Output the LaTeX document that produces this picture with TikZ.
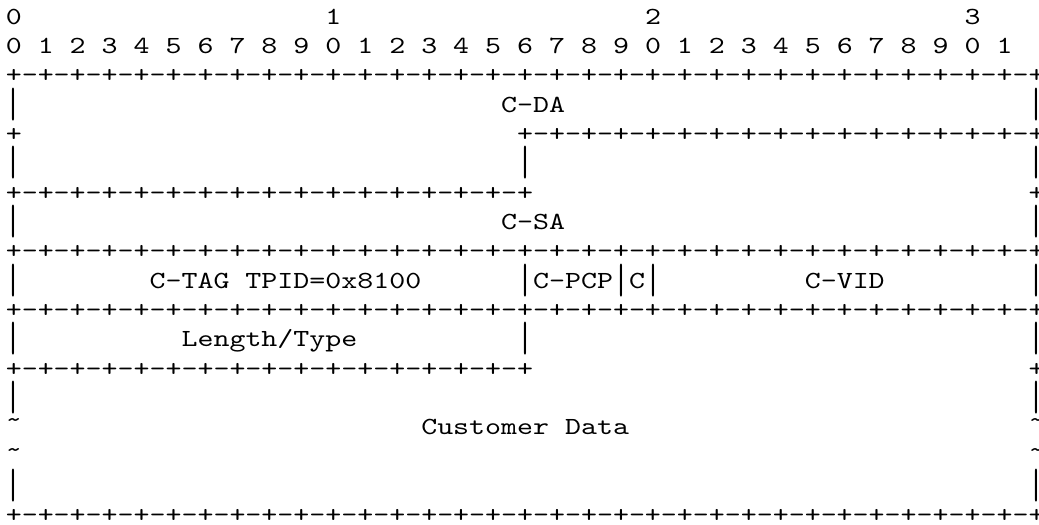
\documentclass[tikz,border=0pt]{standalone}
\usepackage{fontspec}
\usepackage{tikz}
\newfontfamily\asciifont[FakeStretch=1.2373]{lmmono10-regular.otf}
\newcommand\pluses{+-+-+-+-+-+-+-+-}
\newcommand\halfrule{\pluses\pluses+}
\newcommand\fullrule{\pluses\pluses\pluses\pluses+}
\newcommand\vbar{\smash{\raisebox{-2.5pt}{\scalebox{1}[1.72]{|}}}\vphantom{C}}
\newcommand\wave{\raisebox{3.5pt}{\textasciitilde}}

\begin{document}
\begin{tikzpicture}[
        x=7.99pt, y=-14.665pt,
        every node/.style={inner sep=0pt, outer sep=0pt, anchor=base west,
            font={\fontsize{12.3pt}{14pt}\asciifont}},
    ]
    \useasboundingbox (-0.363,0.173) rectangle (64.656,18.039);
    % bit numbers
    \foreach \t in {0,...,3}
        \node (tens\t) at (20*\t,1) {\t};
    \foreach \b [evaluate=\b as \d using {int(mod(\b,10))}] in {0,...,31}
        \node (bit\b) at (2*\b,2) {\d};
    % C-DA
    \node (ruleA) at (0,3) {\fullrule};
    \node (daL) at (0,4) {\vbar};
    \node (da) at (31,4) {C-DA};
    \node (daR) at (64,4) {\vbar};
    \node (daP) at (0,5) {+};
    \node (ruleB) at (32,5) {\halfrule};
    \node (saL) at (0,6) {\vbar};
    \node (daM) at (32,6) {\vbar};
    \node (saR) at (64,6) {\vbar};
    % C-SA
    \node (ruleC) at (0,7) {\halfrule};
    \node (saP) at (64,7) {+};
    \node (sa1) at (0,8) {\vbar};
    \node (sa) at (31,8) {C-SA};
    \node (sa2) at (64,8) {\vbar};
    \node (ruleD) at (0,9) {\fullrule};
    % C-TAG
    \node (tagL) at (0,10) {\vbar};
    \node (tpid) at (9,10) {C-TAG TPID=0x8100};
    \node (pcp) at (32,10) {\vbar C-PCP\vbar C\vbar};
    \node (vid) at (50,10) {C-VID};
    \node (tagR) at (64,10) {\vbar};
    \node (ruleE) at (0,11) {\fullrule};
    % Length/Type
    \node (ltL) at (0,12) {\vbar};
    \node (lt) at (11,12) {Length/Type};
    \node (ltM) at (32,12) {\vbar};
    \node (ltR) at (64,12) {\vbar};
    \node (ruleF) at (0,13) {\halfrule};
    \node (ltP) at (64,13) {+};
    % Customer Data
    \node (cdL1) at (0,14) {\vbar};
    \node (cdR1) at (64,14) {\vbar};
    \node (cdL2) at (0,15) {\wave};
    \node (cd) at (26,15) {Customer Data};
    \node (cdR2) at (64,15) {\wave};
    \node (cdL3) at (0,16) {\wave};
    \node (cdR3) at (64,16) {\wave};
    \node (cdL4) at (0,17) {\vbar};
    \node (cdR4) at (64,17) {\vbar};
    \node (ruleG) at (0,18) {\fullrule};
\end{tikzpicture}
\end{document}
